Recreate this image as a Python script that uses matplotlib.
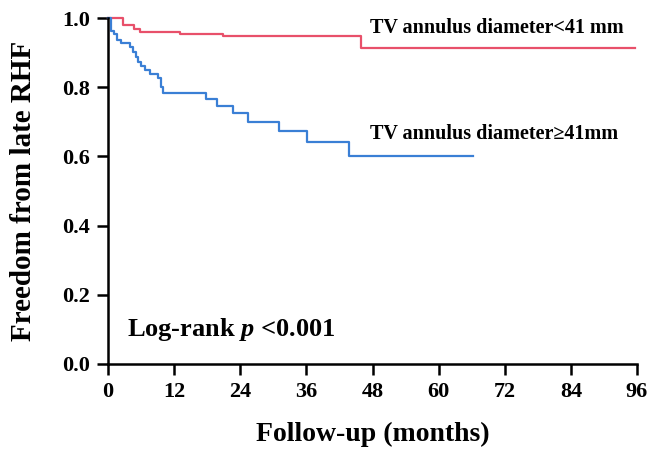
import matplotlib.pyplot as plt
import numpy as np

# Kaplan-Meier steps
small_t = [0, 2.7, 4.8, 5.8, 13.1, 20.9, 45.9, 95.6]
small_s = [1.0, 0.980, 0.968, 0.960, 0.955, 0.947, 0.914, 0.914]

large_t = [0, 0.5, 1.0, 1.6, 2.3, 4.0, 4.6, 5.1, 5.5, 5.9, 6.7, 7.6, 9.1, 9.6, 10.0,
           17.8, 19.8, 22.7, 25.4, 31.0, 36.1, 43.8, 66.2]
large_s = [1.0, 0.963, 0.954, 0.936, 0.927, 0.915, 0.903, 0.888, 0.874, 0.861, 0.850,
           0.837, 0.826, 0.801, 0.783, 0.766, 0.746, 0.725, 0.700, 0.673, 0.641, 0.601, 0.601]

x_ticks = np.arange(0, 97, 12)
y_ticks = [0.0, 0.2, 0.4, 0.6, 0.8, 1.0]

plt.rcParams['font.family'] = ['Liberation Serif', 'DejaVu Serif']
plt.rcParams['font.weight'] = 'bold'
plt.rcParams['mathtext.fontset'] = 'custom'
plt.rcParams['mathtext.it'] = 'Liberation Serif:italic:bold'
plt.rcParams['mathtext.rm'] = 'Liberation Serif:bold'

fig = plt.figure(figsize=(6.48, 4.51), dpi=100)
ax = fig.add_axes([0.1667, 0.193, 0.8163, 0.767])

ax.step(small_t, small_s, where='post', color='#e8506a', lw=1.6, clip_on=False)
ax.step(large_t, large_s, where='post', color='#3a7fd5', lw=1.6, clip_on=False)

ax.set_xlim(0, 96)
ax.set_ylim(0, 1.0)
ax.set_xticks(x_ticks)
ax.set_yticks(y_ticks)
ax.set_yticklabels(['%.1f' % v for v in y_ticks])
ax.tick_params(direction='out', length=8, width=1.8, labelsize=16, pad=5)
for lab in ax.get_xticklabels() + ax.get_yticklabels():
    lab.set_fontweight('bold')

for s in ['top', 'right']:
    ax.spines[s].set_visible(False)
for s in ['left', 'bottom']:
    ax.spines[s].set_linewidth(1.8)

ax.set_xlabel('Follow-up (months)', fontsize=20, fontweight='bold', va='center')
ax.set_ylabel('Freedom from late RHF', fontsize=21, fontweight='bold', va='center')
ax.xaxis.set_label_coords(0.5, -0.205)
ax.yaxis.set_label_coords(-0.159, 0.5)

ax.text(47.5, 0.970, 'TV annulus diameter<41 mm', fontsize=14.5, fontweight='bold', va='center')
ax.text(47.5, 0.665, 'TV annulus diameter\u226541mm', fontsize=14.5, fontweight='bold', va='center')
ax.text(3.5, 0.10, 'Log-rank $p$ <0.001', fontsize=19, fontweight='bold', va='center')

fig.savefig('out.png', dpi=100)
